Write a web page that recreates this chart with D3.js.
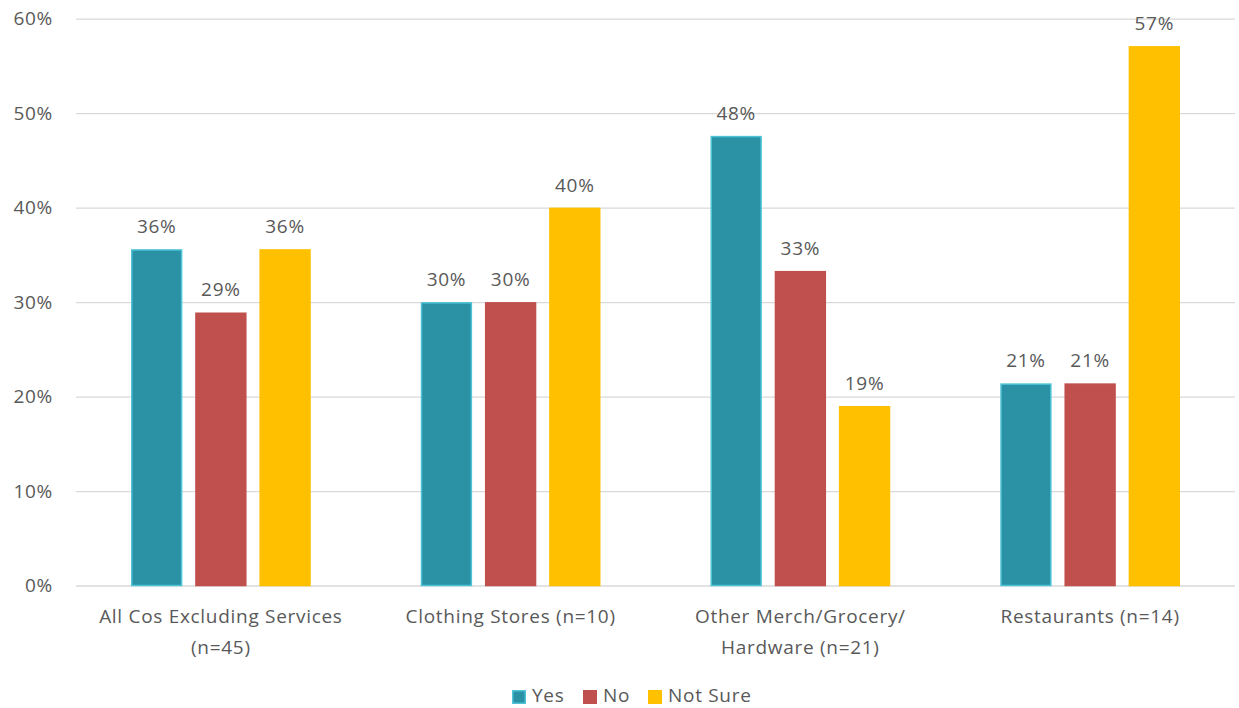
<!DOCTYPE html>
<html lang="en">
<head>
<meta charset="utf-8">
<title>Survey chart</title>
<script src="https://cdn.jsdelivr.net/npm/d3@7"></script>
<style>
  body { margin: 0; background: #fff; }
  text { font-family: "Open Sans", sans-serif; fill: #595959; font-size: 19px; letter-spacing: 0.7px; }
</style>
</head>
<body>
<script>
var categories = [["All Cos Excluding Services", "(n=45)"], ["Clothing Stores (n=10)"], ["Other Merch/Grocery/", "Hardware (n=21)"], ["Restaurants (n=14)"]];
var seriesNames = ["Yes", "No", "Not Sure"];
var yes = [0.356, 0.30, 0.476, 0.214];
var no = [0.289, 0.30, 0.333, 0.214];
var notSure = [0.356, 0.40, 0.190, 0.571];
var yTicks = [0, 0.1, 0.2, 0.3, 0.4, 0.5, 0.6];

var colors = ["#2A92A4", "#C0504D", "#FFC000"];
var strokes = ["#4FC3D8", "#C0504D", "#FFC000"];

var W = 1239, H = 708;
var plotL = 76, plotR = 1235, plotT = 18.7, plotB = 585.5;

var svg = d3.select("body").append("svg").attr("width", W).attr("height", H);

var y = d3.scaleLinear().domain([0, 0.6]).range([plotB, plotT]);
var x0 = d3.scaleBand().domain(d3.range(categories.length)).range([plotL, plotR]);
var x1 = d3.scaleBand().domain(d3.range(3)).range([55, x0.bandwidth() - 55]).paddingInner(0.2);

// gridlines
svg.selectAll(".grid").data(yTicks).enter().append("line")
  .attr("x1", plotL).attr("x2", plotR)
  .attr("y1", function(d) { return y(d) + 0.5; })
  .attr("y2", function(d) { return y(d) + 0.5; })
  .attr("stroke", "#d9d9d9").attr("stroke-width", 1.3);

svg.selectAll(".ytick").data(yTicks).enter().append("text")
  .attr("x", 53).attr("y", function(d) { return y(d); })
  .attr("dy", "0.35em").attr("text-anchor", "end")
  .text(d3.format(".0%"));

var data = categories.map(function(c, i) { return [yes[i], no[i], notSure[i]]; });

var groups = svg.selectAll(".grp").data(data).enter().append("g")
  .attr("transform", function(d, i) { return "translate(" + x0(i) + ",0)"; });

groups.selectAll("rect").data(function(d) { return d; }).enter().append("rect")
  .attr("x", function(d, j) { return x1(j) + 0.75; })
  .attr("width", x1.bandwidth() - 1.5)
  .attr("y", function(d) { return y(d) + 0.75; })
  .attr("height", function(d) { return plotB - y(d) - 0.75; })
  .attr("fill", function(d, j) { return colors[j]; })
  .attr("stroke", function(d, j) { return strokes[j]; })
  .attr("stroke-width", 1.5);

groups.selectAll(".val").data(function(d) { return d; }).enter().append("text")
  .attr("x", function(d, j) { return x1(j) + x1.bandwidth() / 2; })
  .attr("y", function(d) { return y(d) - 16; })
  .attr("text-anchor", "middle")
  .text(d3.format(".0%"));

// category labels
svg.selectAll(".cat").data(categories).enter().append("text")
  .attr("x", function(d, i) { return x0(i) + x0.bandwidth() / 2; })
  .attr("y", 623)
  .attr("text-anchor", "middle")
  .each(function(d) {
    var t = d3.select(this);
    d.forEach(function(line, k) {
      t.append("tspan").attr("x", t.attr("x")).attr("dy", k === 0 ? 0 : 31).text(line);
    });
  });

// legend
var legendX = [512, 583, 648];
var legend = svg.selectAll(".leg").data(seriesNames).enter().append("g")
  .attr("transform", function(d, i) { return "translate(" + legendX[i] + ",690)"; });
legend.append("rect").attr("x", 0.75).attr("y", 0.75).attr("width", 12.5).attr("height", 12.5)
  .attr("fill", function(d, i) { return colors[i]; })
  .attr("stroke", function(d, i) { return strokes[i]; }).attr("stroke-width", 1.5);
legend.append("text").attr("x", 20).attr("y", 5.5).attr("dy", "0.35em")
  .text(function(d) { return d; });
</script>
</body>
</html>
